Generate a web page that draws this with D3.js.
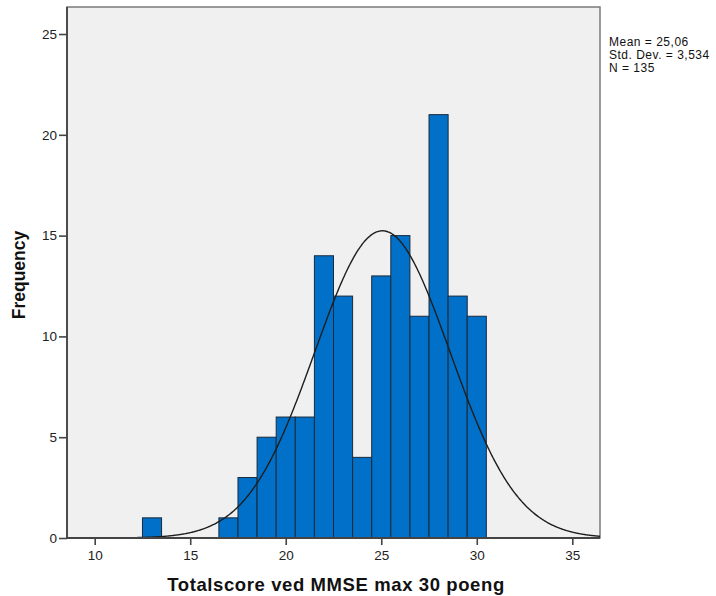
<!DOCTYPE html>
<html>
<head>
<meta charset="utf-8">
<script src="https://cdn.jsdelivr.net/npm/d3@7.9.0/dist/d3.min.js"></script>
<style>
  body { margin: 0; background: #fff; }
  svg { display: block; font-family: "Liberation Sans", Arial, sans-serif; }
</style>
</head>
<body>
<svg id="chart" width="716" height="596"></svg>
<script>
// histogram of MMSE total scores
const scores = [13, 17, 18, 19, 20, 21, 22, 23, 24, 25, 26, 27, 28, 29, 30];
const counts = [1, 1, 3, 5, 6, 6, 14, 12, 4, 13, 15, 11, 21, 12, 11];
const xTicks = [10, 15, 20, 25, 30, 35];
const yTicks = [0, 5, 10, 15, 20, 25];
const statLines = ['Mean = 25,06', 'Std. Dev. = 3,534', 'N = 135'];
const mean = 25.06, sd = 3.534, n = 135;

const svg = d3.select('#chart');
const plotL = 67, plotR = 600, plotT = 7, plotB = 538;

const x = d3.scaleLinear().domain([8.55, 36.45]).range([plotL, plotR]);
const y = d3.scaleLinear().domain([0, 26.34]).range([plotB, plotT]);

// plot background
svg.append('rect')
  .attr('x', plotL).attr('y', plotT)
  .attr('width', plotR - plotL).attr('height', plotB - plotT)
  .attr('fill', '#f0f0f0')
  .attr('stroke', '#7a7a7a').attr('stroke-width', 1.5);

// bars
svg.selectAll('rect.bar')
  .data(scores)
  .join('rect')
  .attr('class', 'bar')
  .attr('x', d => x(d - 0.5))
  .attr('y', (d, i) => y(counts[i]))
  .attr('width', d => x(d + 0.5) - x(d - 0.5))
  .attr('height', (d, i) => plotB - y(counts[i]))
  .attr('fill', '#0070c8')
  .attr('stroke', '#1a2a3a')
  .attr('stroke-width', 1);

// normal curve from the stated mean / sd
const curvePts = d3.range(8.55, 36.46, 0.05).map(v => [v,
  n * Math.exp(-0.5 * ((v - mean) / sd) ** 2) / (sd * Math.sqrt(2 * Math.PI))]);
svg.append('path')
  .attr('d', d3.line().x(d => x(d[0])).y(d => y(d[1])).curve(d3.curveBasis)(curvePts))
  .attr('fill', 'none')
  .attr('stroke', '#1e1e1e')
  .attr('stroke-width', 1.4);

// axes
const xAxis = svg.append('g')
  .attr('transform', `translate(0,${plotB})`)
  .call(d3.axisBottom(x).tickValues(xTicks).tickSize(7).tickPadding(5));
const yAxis = svg.append('g')
  .attr('transform', `translate(${plotL},0)`)
  .call(d3.axisLeft(y).tickValues(yTicks).tickSize(8).tickPadding(2));

[xAxis, yAxis].forEach(g => {
  g.select('.domain').attr('stroke', '#444').attr('stroke-width', 1.8);
  g.selectAll('.tick line').attr('stroke', '#444').attr('stroke-width', 1.6);
  g.selectAll('.tick text')
    .attr('fill', '#222')
    .style('font-size', '13.5px')
    .style('font-family', '"Liberation Sans", Arial, sans-serif');
});
xAxis.select('.domain').attr('d', `M${plotL},0H${plotR}`);
yAxis.select('.domain').attr('d', `M0,${plotB}V${plotT}`);

// axis titles
svg.append('text')
  .attr('x', 336).attr('y', 591)
  .attr('text-anchor', 'middle')
  .style('font-size', '18.5px').style('font-weight', 'bold')
  .style('letter-spacing', '0.6px')
  .attr('fill', '#111')
  .text('Totalscore ved MMSE max 30 poeng');

svg.append('text')
  .attr('transform', 'translate(25,275) rotate(-90)')
  .attr('text-anchor', 'middle')
  .style('font-size', '17.5px').style('font-weight', 'bold')
  .attr('fill', '#111')
  .text('Frequency');

// stats box
svg.append('g')
  .selectAll('text')
  .data(statLines)
  .join('text')
  .attr('x', 609)
  .attr('y', (d, i) => 45.5 + i * 13.3)
  .style('font-size', '12px')
  .style('letter-spacing', '0.5px')
  .attr('fill', '#111')
  .text(d => d);
</script>
</body>
</html>
